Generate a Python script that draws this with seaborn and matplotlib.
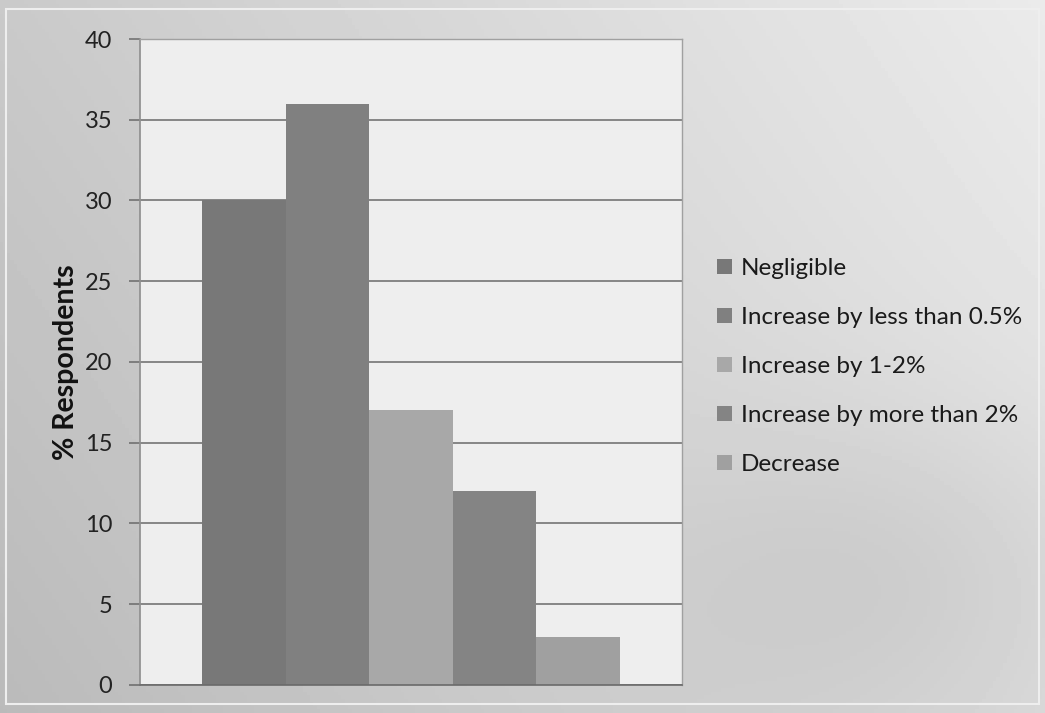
import numpy as np
import pandas as pd
import matplotlib
matplotlib.use("Agg")
import matplotlib.pyplot as plt
import seaborn as sns

# Survey responses: expected change
categories = ["Negligible", "Increase by less than 0.5%", "Increase by 1-2%",
              "Increase by more than 2%", "Decrease"]
respondents = [30, 36, 17, 12, 3]
bar_colors = ["#787878", "#808080", "#a8a8a8", "#848484", "#a0a0a0"]
y_ticks = [0, 5, 10, 15, 20, 25, 30, 35, 40]

df = pd.DataFrame({"group": [""] * len(categories),
                   "category": categories,
                   "value": respondents})

sns.set_theme(style="white")
plt.rcParams["font.family"] = ["Lato", "DejaVu Sans"]

fig = plt.figure(figsize=(10.45, 7.13), dpi=100)
fig.patch.set_facecolor("#d4d4d4")

# Soft grey shaded backdrop behind the chart
bg = fig.add_axes([0, 0, 1, 1], zorder=-10)
yy, xx = np.mgrid[0:1:200j, 0:1:300j]
shade = 0.73 + 0.13 * xx + 0.06 * yy - 0.05 * np.exp(-((xx - 0.85) ** 2 + (yy - 0.2) ** 2) / 0.05)
bg.imshow(shade, cmap="gray", vmin=0, vmax=1, aspect="auto", extent=[0, 1, 0, 1], origin="lower")
bg.add_patch(plt.Rectangle((0.006, 0.012), 0.988, 0.975, fill=False,
                           edgecolor="#eeeeee", linewidth=1.5))
bg.set_axis_off()

ax = fig.add_axes([0.134, 0.0393, 0.5187, 0.906])
ax.set_facecolor("#eeeeee")
sns.barplot(data=df, x="group", y="value", hue="category", hue_order=categories,
            palette=bar_colors, width=0.77, saturation=1, ax=ax, legend=True,
            edgecolor="none", linewidth=0)

ax.set_ylim(0, 40)
ax.set_xlim(-0.5, 0.5)
ax.set_yticks(y_ticks)
ax.set_yticklabels([str(t) for t in y_ticks], fontsize=17, color="#222222")
ax.set_xticks([])
ax.set_xlabel("")
ax.set_ylabel("% Respondents", fontsize=20.5, fontweight="bold", color="#111111", labelpad=4)
ax.yaxis.grid(True, color="#6a6a6a", linewidth=1.1)
ax.set_axisbelow(True)
ax.tick_params(axis="y", length=8, width=1.1, color="#6a6a6a", pad=12, left=True)
for side in ["top", "right"]:
    ax.spines[side].set_color("#a0a0a0")
    ax.spines[side].set_linewidth(1)
ax.spines["left"].set_color("#909090")
ax.spines["bottom"].set_color("#6a6a6a")
ax.spines["bottom"].set_linewidth(1.2)

handles, labels = ax.get_legend_handles_labels()
ax.legend(handles, labels, loc="center left", bbox_to_anchor=(1.025, 0.493),
          frameon=False, fontsize=17.5, handlelength=0.6, handleheight=0.6,
          handletextpad=0.35, labelspacing=1.15, labelcolor="#1a1a1a")

fig.savefig("out.png", dpi=100)
